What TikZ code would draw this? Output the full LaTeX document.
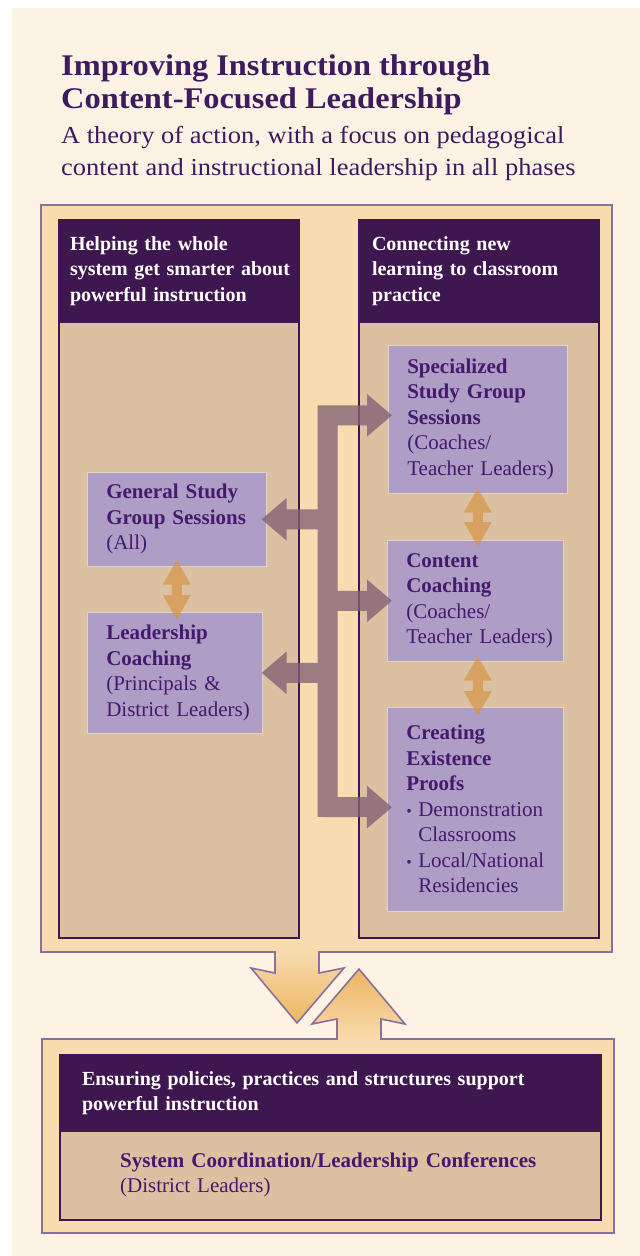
\documentclass[tikz,border=0pt]{standalone}
\usepackage{fontspec}
\setmainfont{Liberation Serif}
\newfontfamily\headingfont[FakeStretch=1.08]{Liberation Serif}
\usetikzlibrary{positioning, calc, arrows.meta}
\definecolor{cream}{HTML}{FCF3E4}
\definecolor{peach}{HTML}{F8DCAF}
\definecolor{framepurple}{HTML}{8C6F9C}
\definecolor{plum}{HTML}{3E1750}
\definecolor{tan}{HTML}{DBC0A2}
\definecolor{lavender}{HTML}{AE9EC6}
\definecolor{lavedge}{HTML}{E4D3C2}
\definecolor{ink}{HTML}{44196E}
\definecolor{titleink}{HTML}{3E1A5E}
\definecolor{mauve}{RGB}{129,97,116}
\definecolor{gold}{RGB}{214,148,70}
\definecolor{amber}{HTML}{EDB561}
\tikzset{
  linkhead/.tip = {Triangle[length=25pt,width=41pt]},
  pairhead/.tip = {Triangle[length=25pt,width=26pt]},
  col/.style = {draw=plum, line width=2pt, fill=tan, anchor=north west, inner sep=0pt},
  hdr/.style = {draw=plum, line width=2pt, fill=plum, anchor=north west, inner ysep=0pt,
                text=white, align=left, font=\bfseries\fontsize{20}{25.5}\selectfont},
  lavbox/.style = {draw=lavedge, line width=0.6pt, fill=lavender, anchor=north west,
                   inner xsep=19pt, inner ysep=0pt, align=left, text=ink,
                   font=\fontsize{21}{25.5}\selectfont},
  linkarrow/.style = {draw=mauve, line width=20pt, -linkhead},
  pairarrow/.style = {draw=gold, line width=10pt, pairhead-pairhead},
}

\begin{document}
\begin{tikzpicture}[x=1pt, y=-1pt]
  \useasboundingbox (0,0) rectangle (640,1256);
  \fill[white] (0,0) rectangle (640,1256);
  \fill[cream] (12,8) rectangle (640,1256);

  % heading
  \node[anchor=north west, inner sep=0pt, align=left, text=titleink,
        font=\headingfont\bfseries\fontsize{30}{33}\selectfont] (title) at (61,54)
        {Improving Instruction through\\Content-Focused Leadership};
  \node[anchor=north west, inner sep=0pt, align=left, text=titleink,
        font=\headingfont\fontsize{24.5}{32}\selectfont] (subtitle) at (61,126)
        {A theory of action, with a focus on pedagogical\\content and instructional leadership in all phases};

  % upper frame with the arrow going down
  \fill[peach] (41,205) rectangle (612,952);
  \shade[top color=peach, bottom color=amber] (275,950) -- (275,973) -- (251,968) -- (297,1023)
        -- (344,968) -- (319,973) -- (319,950) -- cycle;
  \draw[framepurple, line width=1.6pt] (41,205) -- (612,205) -- (612,952) -- (319,952) -- (319,973)
        -- (344,968) -- (297,1023) -- (251,968) -- (275,973) -- (275,952) -- (41,952) -- cycle;

  % lower frame with the arrow going up
  \fill[peach] (42,1039) rectangle (614,1233);
  \shade[top color=amber, bottom color=peach] (337,1041) -- (337,1019) -- (312,1024) -- (359,969)
        -- (405,1024) -- (381,1019) -- (381,1041) -- cycle;
  \draw[framepurple, line width=1.6pt] (42,1039) -- (337,1039) -- (337,1019) -- (312,1024) -- (359,969)
        -- (405,1024) -- (381,1019) -- (381,1039) -- (614,1039) -- (614,1233) -- (42,1233) -- cycle;

  % columns
  \node[col, minimum width=240pt, minimum height=718pt] (left) at (58,219) {};
  \node[hdr, text width=218pt, inner xsep=11pt, minimum height=102pt] (leftHead) at (58,219)
        {Helping the whole\\\mbox{system get smarter about}\\powerful instruction};
  \node[col, minimum width=240pt, minimum height=718pt] (right) at (358,219) {};
  \node[hdr, text width=214pt, inner xsep=13pt, minimum height=102pt] (rightHead) at (358,219)
        {Connecting new\\learning to classroom\\practice};

  % activities
  \node[lavbox, text width=141pt, minimum height=94pt] (general) at (87,472)
        {\textbf{General Study}\\\textbf{Group Sessions}\\(All)};
  \node[lavbox, text width=137pt, minimum height=121pt] (lead) at (87,612)
        {\textbf{Leadership}\\\textbf{Coaching}\\(Principals \&\\\mbox{District Leaders)}};
  \node[lavbox, text width=141pt, minimum height=148pt] (spec) at (388,345)
        {\textbf{Specialized}\\\textbf{Study Group}\\\textbf{Sessions}\\(Coaches/\\\mbox{Teacher Leaders)}};
  \node[lavbox, text width=138pt, minimum height=121pt] (coach) at (387,540)
        {\textbf{Content}\\\textbf{Coaching}\\(Coaches/\\\mbox{Teacher Leaders)}};
  \node[lavbox, text width=138pt, minimum height=204pt] (proof) at (387,707)
        {\textbf{Creating}\\\textbf{Existence}\\\textbf{Proofs}\\
         \mbox{\makebox[12pt][l]{\scalebox{0.75}{\textbullet}}Demonstration}\\\hspace*{12pt}Classrooms\\
         \mbox{\makebox[12pt][l]{\scalebox{0.75}{\textbullet}}Local/National}\\\hspace*{12pt}Residencies};

  % system level
  \node[col, minimum width=541pt, minimum height=165pt] (sys) at (59,1054) {};
  \node[hdr, text width=497pt, inner xsep=22pt, minimum height=76pt] (sysHead) at (59,1054)
        {Ensuring policies, practices and structures support\\powerful instruction};
  \node[anchor=north west, inner xsep=61pt, inner ysep=0pt, text width=419pt, minimum height=89pt,
        align=left, text=ink, font=\fontsize{21}{25.5}\selectfont] (conf) at (59,1130)
        {\textbf{\mbox{System Coordination/Leadership Conferences}}\\(District Leaders)};

  % links from the trunk
  \coordinate (trunk) at (327.5,807);
  \begin{scope}[transparency group, opacity=0.78]
    \draw[linkarrow, linkhead-linkhead] ($(spec.west)+(4,-4)$) -| (trunk) -- ($(proof.west)+(5,-2)$);
    \draw[linkarrow] (trunk |- general.east) -- ($(general.east)+(-5,0)$);
    \draw[linkarrow] (trunk |- coach.west) -- ($(coach.west)+(5,0)$);
    \draw[linkarrow] (trunk |- lead.east) -- ($(lead.east)+(-1,0)$);
  \end{scope}

  % pairs
  \begin{scope}[transparency group, opacity=0.7]
    \draw[pairarrow] ($(general.south)+(0,-7)$) -- ($(general.south |- lead.north)+(0,8)$);
    \draw[pairarrow] ($(spec.south)+(0,-6)$) -- ($(spec.south |- coach.north)+(0,7)$);
    \draw[pairarrow] ($(spec.south |- coach.south)+(0,-6)$) -- ($(spec.south |- proof.north)+(0,9)$);
  \end{scope}
\end{tikzpicture}
\end{document}
